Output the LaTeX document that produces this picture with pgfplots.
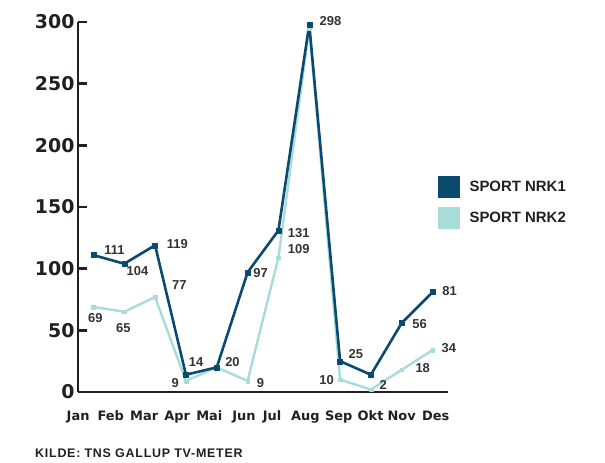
\documentclass[border=0pt]{standalone}
\usepackage{fontspec}
\setmainfont{Liberation Sans}
\newfontfamily\dejavu{DejaVu Sans}
\newfontfamily\srcfont{Liberation Sans}[LetterSpace=6]
\usepackage{pgfplots}
\pgfplotsset{compat=1.18}
\definecolor{nrkone}{HTML}{0B4A6F}
\definecolor{nrktwo}{HTML}{A8DCD9}
\definecolor{axcol}{HTML}{231F20}
\definecolor{lblcol}{HTML}{333333}
\tikzset{lbl/.style={font=\bfseries\fontsize{13}{13}\selectfont, text=lblcol, inner sep=0pt, anchor=center}}
\begin{document}
\begin{tikzpicture}
\path[use as bounding box] (0,0) rectangle (605bp,463bp);
\begin{axis}[
  at={(78bp,71bp)}, anchor=south west,
  width=370bp, height=370bp, scale only axis,
  xmin=-0.5, xmax=11.5, ymin=0, ymax=300,
  clip=false,
  axis x line=bottom, axis y line=left,
  axis line style={-, line width=2.8bp, color=axcol},
  /pgf/number format/assume math mode=true,
  ytick={0,50,...,300},
  ytick pos=left,
  tick align=inside, major tick length=9bp,
  ytick style={line width=2.8bp, color=axcol},
  xtick={-0.497,0.562,1.646,2.718,3.760,4.880,5.795,6.877,7.955,8.990,9.997,11.104},
  xticklabels={Jan,Feb,Mar,Apr,Mai,Jun,Jul,Aug,Sep,Okt,Nov,Des},
  xtick style={draw=none},
  y tick label style={font=\dejavu\bfseries\fontsize{19}{19}\selectfont, color=axcol},
  x tick label style={font=\dejavu\bfseries\fontsize{13}{13}\selectfont, color=axcol,
    text height=9.5bp, text depth=0pt, anchor=north, yshift=-15.4bp},
  legend style={at={(0.972,0.584)}, anchor=north west, draw=none, fill=none,
    inner sep=0pt, outer sep=0pt, row sep=9bp, column sep=10bp,
    font=\bfseries\fontsize{15}{15}\selectfont, text=axcol,
    cells={anchor=west}, nodes={inner sep=0pt}},
  legend cell align=left,
]
\addplot[nrktwo, line width=2.4bp, line join=round, mark=square*, mark size=1.8bp,
  mark options={solid, line width=0.3bp}, forget plot]
  coordinates {(0,69)(1,65)(2,77)(3,9)(4,20)(5,9)(6,109)(7,295)(8,10)(9,2)(10,18)(11,34)};
\addplot[nrkone, line width=2.6bp, line join=round, mark=square*, mark size=2.5bp,
  mark options={solid, line width=0.3bp}, forget plot]
  coordinates {(0,111)(1,104)(2,119)(3,14)(4,20)(5,97)(6,131)(7,298)(8,25)(9,14)(10,56)(11,81)};
\addlegendimage{legend image code/.code={\fill[nrkone] (0bp,-10.75bp) rectangle (21.5bp,10.75bp);}}
\addlegendimage{legend image code/.code={\fill[nrktwo] (0bp,-10.75bp) rectangle (21.5bp,10.75bp);}}
\legend{SPORT NRK1, SPORT NRK2}
\node[lbl] at (axis cs:0.68,115.1) {111};
\node[lbl] at (axis cs:1.43,98.4) {104};
\node[lbl] at (axis cs:2.72,120) {119};
\node[lbl] at (axis cs:2.79,86.8) {77};
\node[lbl] at (axis cs:0.06,60) {69};
\node[lbl] at (axis cs:0.97,51.9) {65};
\node[lbl] at (axis cs:3.33,24.6) {14};
\node[lbl] at (axis cs:2.65,7.5) {9};
\node[lbl] at (axis cs:4.51,24.6) {20};
\node[lbl] at (axis cs:5.42,7.5) {9};
\node[lbl] at (axis cs:5.42,96.5) {97};
\node[lbl] at (axis cs:6.66,128.9) {131};
\node[lbl] at (axis cs:6.66,116) {109};
\node[lbl] at (axis cs:7.69,300.6) {298};
\node[lbl] at (axis cs:8.51,30.8) {25};
\node[lbl] at (axis cs:7.56,9.7) {10};
\node[lbl] at (axis cs:9.40,5.7) {2};
\node[lbl] at (axis cs:10.58,55.1) {56};
\node[lbl] at (axis cs:10.68,19.5) {18};
\node[lbl] at (axis cs:11.55,82.1) {81};
\node[lbl] at (axis cs:11.53,35.4) {34};
\end{axis}
\node[anchor=base west, inner sep=0pt, text=axcol] at (35bp,6bp)
  {\srcfont\bfseries\fontsize{12.5}{12.5}\selectfont KILDE: TNS GALLUP TV-METER};
\end{tikzpicture}
\end{document}
